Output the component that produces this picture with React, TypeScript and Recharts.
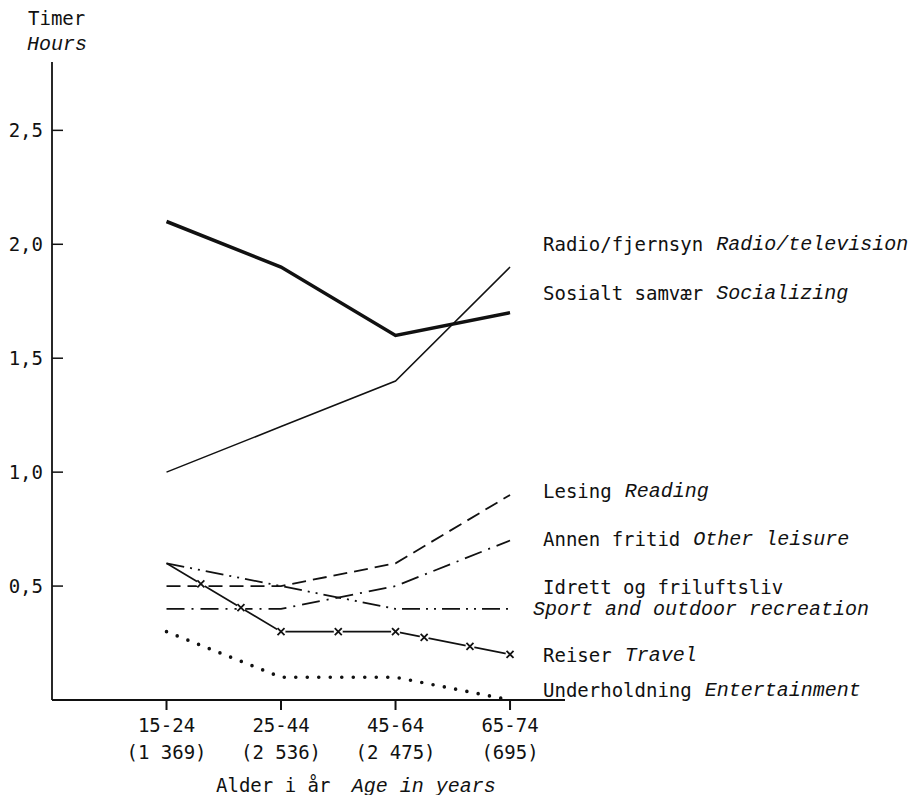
import React from "react";
import { LineChart, Line, XAxis, YAxis } from "recharts";

// age groups and number of respondents
const ageGroups = ["15-24", "25-44", "45-64", "65-74"];
const sampleSizes = ["(1 369)", "(2 536)", "(2 475)", "(695)"];
const yTicks = [0.5, 1, 1.5, 2, 2.5];

// hours per day
const socializing = [2.1, 1.9, 1.6, 1.7];
const radioTv = [1.0, 1.2, 1.4, 1.9];
const reading = [0.5, 0.5, 0.6, 0.9];
const otherLeisure = [0.4, 0.4, 0.5, 0.7];
const sport = [0.6, 0.5, 0.4, 0.4];
const travel = [0.6, 0.3, 0.3, 0.2];
const entertainment = [0.3, 0.1, 0.1, 0.0];

const data = ageGroups.map((g, i) => ({
  idx: i,
  group: g,
  socializing: socializing[i],
  radioTv: radioTv[i],
  reading: reading[i],
  otherLeisure: otherLeisure[i],
  sport: sport[i],
  travel: travel[i],
  entertainment: entertainment[i],
}));

const MONO = "'DejaVu Sans Mono', monospace";
const ITAL = "'Liberation Mono', monospace";
const INK = "#111";
const FS = 19;
const FS_IT = 20;

type Series = {
  key: string;
  no: string;
  en: string;
  width: number;
  dash?: string;
  cap?: "round" | "butt";
  dy: number;
  twoLines?: boolean;
};

const series: Series[] = [
  { key: "socializing", no: "Sosialt samvær", en: "Socializing", width: 3.5, dy: -20 },
  { key: "radioTv", no: "Radio/fjernsyn", en: "Radio/television", width: 1.5, dy: -23 },
  { key: "reading", no: "Lesing", en: "Reading", width: 1.8, dash: "14 7", dy: -4 },
  { key: "otherLeisure", no: "Annen fritid", en: "Other leisure", width: 1.8, dash: "18 7 2 7", dy: -2 },
  { key: "sport", no: "Idrett og friluftsliv", en: "Sport and outdoor recreation", width: 1.8, dash: "18 6 2 6 2 6", dy: -22, twoLines: true },
  { key: "travel", no: "Reiser", en: "Travel", width: 1.6, dy: 1 },
  { key: "entertainment", no: "Underholdning", en: "Entertainment", width: 3.6, dash: "0 11.5", cap: "round", dy: -10 },
];

// x marks along the travel line (fractions of each segment)
const travelMarks = [[0.3, 0.65, 1], [0.5, 1], [0.25, 0.65, 1]];
const travelPts: { x: number; y: number }[] = [];

const travelDot = (p: any) => {
  const { cx, cy, index } = p;
  travelPts[index] = { x: cx, y: cy };
  const marks: { x: number; y: number }[] = [];
  const prev = travelPts[index - 1];
  if (index > 0 && prev) {
    travelMarks[index - 1].forEach((t) =>
      marks.push({ x: prev.x + (cx - prev.x) * t, y: prev.y + (cy - prev.y) * t })
    );
  }
  return (
    <g key={`tr-${index}`}>
      {marks.map((m, j) => (
        <g key={j}>
          <circle cx={m.x} cy={m.y} r={4.5} fill="#fff" />
          <path
            d={`M${m.x - 3.5},${m.y - 3.5}L${m.x + 3.5},${m.y + 3.5}M${m.x - 3.5},${m.y + 3.5}L${m.x + 3.5},${m.y - 3.5}`}
            stroke={INK}
            strokeWidth={1.8}
          />
        </g>
      ))}
    </g>
  );
};

const endLabel = (s: Series) => (p: any) => {
  if (p.index !== ageGroups.length - 1) return null;
  const x = p.x + 33;
  const y = p.y + s.dy;
  if (s.twoLines) {
    return (
      <g key={`lb-${s.key}`}>
        <text x={x} y={y} dominantBaseline="central" fontFamily={MONO} fontSize={FS} fill={INK}>
          {s.no}
        </text>
        <text x={x - 10} y={y + 23} dominantBaseline="central" fontFamily={ITAL} fontStyle="italic" fontSize={FS_IT} fill={INK}>
          {s.en}
        </text>
      </g>
    );
  }
  return (
    <text key={`lb-${s.key}`} x={x} y={y} dominantBaseline="central" fontFamily={MONO} fontSize={FS} fill={INK}>
      {s.no}
      <tspan dx={13} fontFamily={ITAL} fontStyle="italic" fontSize={FS_IT}>
        {s.en}
      </tspan>
    </text>
  );
};

const AgeTick = (p: any) => {
  const { x, y, payload } = p;
  const i = payload.value;
  return (
    <g>
      <text x={x} y={y + 18} textAnchor="middle" fontFamily={MONO} fontSize={FS} fill={INK}>
        {ageGroups[i]}
      </text>
      <text x={x} y={y + 45} textAnchor="middle" fontFamily={MONO} fontSize={FS} fill={INK}>
        {sampleSizes[i]}
      </text>
    </g>
  );
};

const HourTick = (p: any) => {
  const { x, y, payload } = p;
  return (
    <g>
      <line x1={x + 9} x2={x + 20} y1={y} y2={y} stroke={INK} strokeWidth={1.5} />
      <text x={x} y={y} textAnchor="end" dominantBaseline="central" fontFamily={MONO} fontSize={FS} fill={INK}>
        {Number(payload.value).toFixed(1).replace(".", ",")}
      </text>
    </g>
  );
};

const txt: React.CSSProperties = {
  position: "absolute",
  fontFamily: MONO,
  fontSize: FS,
  lineHeight: "20px",
  color: INK,
  whiteSpace: "pre",
};

export default function App() {
  return (
    <div style={{ position: "relative", width: 919, height: 803, margin: -8, background: "#fff" }}>
      <div style={{ ...txt, left: 28, top: 8 }}>Timer</div>
      <div style={{ ...txt, left: 27, top: 35, fontFamily: ITAL, fontStyle: "italic", fontSize: FS_IT }}>Hours</div>
      <div style={{ ...txt, left: 216, top: 775 }}>
        Alder i år <span style={{ fontFamily: ITAL, fontStyle: "italic", fontSize: FS_IT, marginLeft: 10 }}>Age in years</span>
      </div>
      <LineChart
        width={919}
        height={803}
        data={data}
        margin={{ top: 62, right: 354, left: 0, bottom: 33 }}
      >
        <XAxis
          dataKey="idx"
          type="number"
          domain={[-1.0, 3.48]}
          ticks={[0, 1, 2, 3]}
          allowDataOverflow
          height={70}
          tickSize={10}
          tickMargin={4}
          tick={<AgeTick />}
          axisLine={{ stroke: INK, strokeWidth: 2 }}
          tickLine={{ stroke: INK, strokeWidth: 2 }}
        />
        <YAxis
          type="number"
          domain={[0, 2.8]}
          ticks={yTicks}
          width={52}
          tickSize={0}
          tickMargin={9}
          tickLine={false}
          tick={<HourTick />}
          axisLine={{ stroke: INK, strokeWidth: 1.8 }}
        />
        {series.map((s) => (
          <Line
            key={s.key}
            type="linear"
            dataKey={s.key}
            stroke={INK}
            strokeWidth={s.width}
            strokeDasharray={s.dash}
            strokeLinecap={s.cap ?? "butt"}
            dot={s.key === "travel" ? travelDot : false}
            activeDot={false}
            label={endLabel(s)}
            isAnimationActive={false}
          />
        ))}
      </LineChart>
    </div>
  );
}
